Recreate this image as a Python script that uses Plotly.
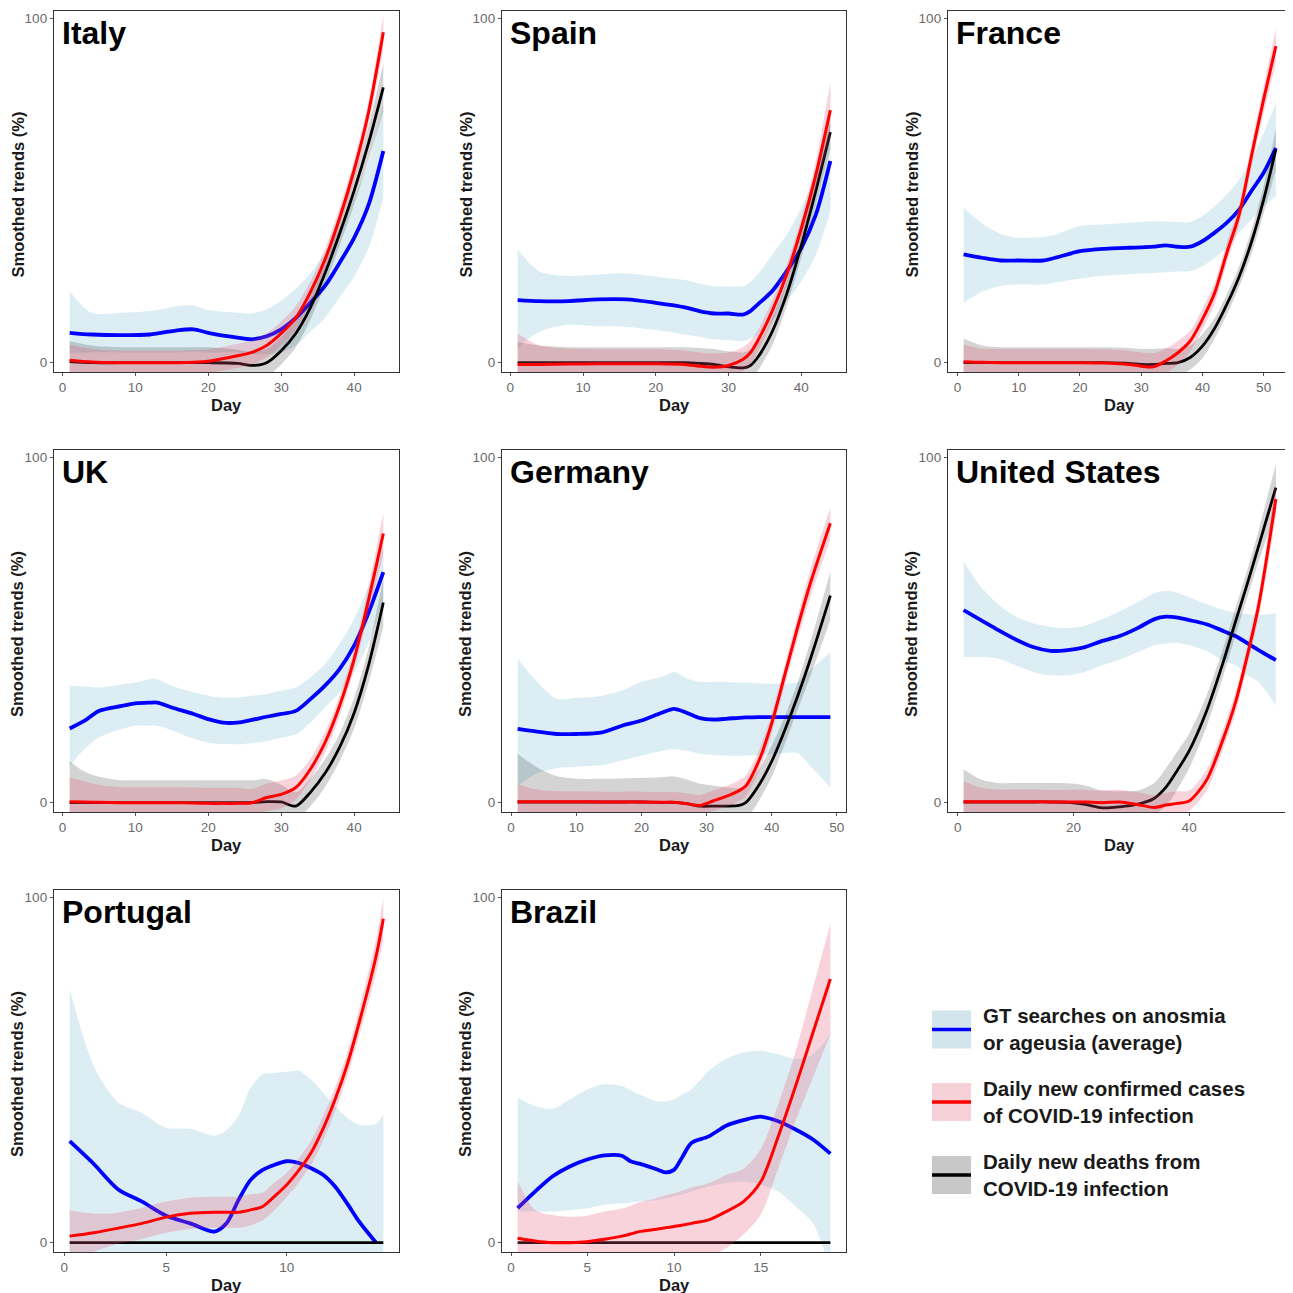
import plotly.graph_objects as go

# ---------------- DATA ----------------
# Italy
IT_DAY = [1, 4, 8, 12, 16, 18, 20, 24, 26, 28, 30, 32, 34, 36, 38, 40, 42, 44]
IT_GT = [8.7, 8.2, 8.0, 8.2, 9.5, 9.7, 8.7, 7.3, 6.8, 7.7, 9.7, 13, 17.4, 22.3, 29, 36.3, 46, 61.5]
IT_GT_LO = [2.9, 3, 3, 3, 3, 3.2, 3, 3, 2.5, 2.5, 3, 5, 9, 13, 19, 25, 33.5, 48]
IT_GT_HI = [20.8, 14.5, 14.5, 15, 16.5, 16.6, 15.3, 14.5, 14.3, 15.5, 18, 21.5, 26, 32, 39, 48, 58.5, 75]
IT_CASES = [0.7, 0.2, 0, 0, 0, 0.1, 0.4, 2, 3, 5, 8.5, 13, 20.5, 30, 42, 56, 73, 96]
IT_CASES_SE = [4.5, 3.8, 3.5, 3.5, 3.5, 3.5, 3.5, 3.5, 3.5, 3.5, 3.5, 3.5, 3, 3, 3, 3, 3.5, 5]
IT_DEATHS = [0.3, 0, 0, 0, 0, 0, 0, -0.2, -0.8, 0, 3.5, 8.5, 16, 26, 37.5, 50, 64, 80]
IT_DEATHS_SE = [6, 5, 4.5, 4.5, 4.5, 4.5, 4.5, 4, 4, 4, 4, 4, 3.5, 3.5, 3.5, 4, 5, 7]

# Spain
SP_DAY = [1, 4, 8, 12, 16, 20, 24, 26, 28, 30, 32, 33, 34, 36, 38, 40, 42, 44]
SP_GT = [18.2, 17.9, 17.9, 18.4, 18.4, 17.4, 16.1, 15, 14.3, 14.3, 14, 15, 16.9, 20.8, 26.6, 33.3, 43, 58.6]
SP_GT_LO = [4.3, 9, 11, 10.6, 10.4, 9.5, 8.2, 7.5, 6.8, 6.5, 6.3, 7, 8.2, 12, 17.9, 23.7, 31.4, 44]
SP_GT_HI = [32.9, 26.5, 25.2, 25.6, 26, 25, 24, 23, 22.2, 22.2, 22.2, 23.5, 25.6, 31.4, 37.2, 45, 54.6, 70]
SP_CASES = [-0.5, -0.5, -0.4, -0.3, -0.3, -0.3, -0.5, -1, -1.3, -0.8, 1, 2.9, 6.3, 15, 25.6, 39, 54.6, 73.4]
SP_CASES_SE = [9, 5.5, 4.5, 4.2, 4.2, 4.2, 4, 4, 4, 3.8, 3.5, 3.5, 3, 3, 3, 3, 4, 8]
SP_DEATHS = [0, 0, 0, 0, 0, 0, 0, -0.2, -0.5, -1.2, -1.5, -0.8, 1.5, 9, 20, 34, 50, 67]
SP_DEATHS_SE = [6, 5, 4.5, 4.5, 4.5, 4.5, 4.5, 4.5, 4.5, 4.5, 4.5, 4.5, 4, 4, 3.5, 3.5, 4, 5]

# France
FR_DAY = [1, 4, 7, 10, 14, 16, 20, 24, 28, 30, 32, 34, 36, 38, 40, 42, 44, 46, 48, 50, 52]
FR_GT = [31.5, 30.5, 29.7, 29.7, 29.7, 30.5, 32.4, 33.1, 33.4, 33.5, 33.7, 34.1, 33.7, 33.7, 35.3, 37.8, 40.7, 44.5, 49.9, 55.2, 62.4]
FR_GT_LO = [17.4, 20.6, 22.3, 22.7, 22.7, 23.3, 24.5, 25.3, 25.7, 25.9, 26.1, 26.3, 26.5, 26.6, 28, 30.5, 33.4, 37.8, 41.6, 45.5, 48.4]
FR_GT_HI = [45, 40.5, 37.5, 36.3, 36.6, 37.2, 39.7, 40.2, 40.7, 40.9, 41.1, 41, 40.9, 40.9, 42.6, 45.5, 48.9, 53.2, 59, 66.8, 75.5]
FR_CASES = [0.3, 0.1, 0, 0, 0, 0, 0, -0.1, -0.5, -1, -1.2, 0.5, 2.9, 6.3, 12.6, 20.3, 32, 43, 60, 76.5, 92]
FR_CASES_SE = [5, 4, 4, 4, 4, 4, 4, 4, 4, 4, 4, 3.5, 3.5, 3, 3, 3, 3, 3, 3.5, 4, 5]
FR_DEATHS = [0, 0, 0, 0, 0, 0, 0, 0, -0.2, -0.5, -0.5, -0.2, 0, 1.5, 4.8, 10, 17, 25, 35, 47.4, 62]
FR_DEATHS_SE = [7, 5, 4.5, 4.5, 4.5, 4.5, 4.5, 4.5, 4.5, 4.5, 4.5, 4.5, 4, 3.5, 3.5, 3, 3, 3, 3.5, 4, 6]

# UK
UK_DAY = [1, 3, 5, 8, 10, 12, 13, 15, 18, 20, 22, 24, 26, 28, 30, 32, 34, 36, 38, 40, 42, 44]
UK_GT = [21.5, 23.7, 26.6, 28, 28.8, 29, 29, 27.6, 25.7, 24.2, 23.2, 23.2, 24, 24.9, 25.7, 26.6, 30, 33.9, 38.7, 45.5, 55.2, 66.8]
UK_GT_LO = [10.6, 15.5, 18.9, 21.3, 22.3, 22.3, 22.3, 21, 18.5, 17.4, 17, 16.9, 17.3, 17.9, 18.8, 19.8, 23.2, 27.6, 31.9, 37.8, 46.5, 59]
UK_GT_HI = [33.9, 33.7, 33.4, 34.2, 34.8, 35.8, 35.8, 33.9, 32, 31, 30.5, 30.5, 31, 31.5, 32.5, 33.4, 36.3, 40.2, 46, 53.2, 63, 74.5]
UK_CASES = [0.3, 0.2, 0.1, 0, 0, 0, 0, 0, -0.1, -0.2, -0.2, -0.2, 0, 1.5, 2.4, 4.4, 9.7, 17.4, 28, 41.6, 59, 78]
UK_CASES_SE = [7, 6, 5, 4.5, 4.5, 4.5, 4.5, 4.5, 4.5, 4.5, 4.5, 4.5, 4, 4, 4, 3.5, 3, 3, 3, 3, 4, 6]
UK_DEATHS = [0, 0, 0, 0, 0, 0, 0, 0, 0, 0, 0, 0, 0, 0.3, 0.2, -1, 3, 8.5, 16, 26, 40, 58]
UK_DEATHS_SE = [12, 9, 7.5, 6.5, 6.5, 6.5, 6.5, 6.5, 6.5, 6.5, 6.5, 6.5, 6.5, 6.5, 5, 4, 4, 4, 4, 4.5, 5, 7]

# Germany
DE_DAY = [1, 4, 7, 10, 14, 17, 20, 23, 25, 27, 29, 31, 33, 35, 36, 38, 40, 42, 44, 46, 49]
DE_GT = [21.4, 20.6, 19.9, 19.9, 20.4, 22.3, 23.8, 26, 27.2, 26, 24.5, 24.1, 24.3, 24.6, 24.7, 24.8, 24.8, 24.8, 24.8, 24.8, 24.8]
DE_GT_LO = [4.9, 8.5, 10, 10.4, 10.9, 12.2, 13.6, 15, 15.5, 15, 14.2, 13.8, 13.6, 13.6, 13.6, 13.8, 14.1, 14.4, 14.3, 10.5, 4.4]
DE_GT_HI = [41.7, 35, 30.1, 30.3, 31, 32.5, 35, 36.4, 37.9, 36, 35, 35, 35, 34.8, 34.8, 34.6, 34.5, 34.5, 35, 38.5, 43.7]
DE_CASES = [0.3, 0.3, 0.3, 0.3, 0.2, 0.2, 0.2, 0.1, 0.1, -0.3, -0.8, 0.5, 1.8, 3.5, 4.8, 12, 23, 37, 51, 64, 81]
DE_CASES_SE = [5, 3.5, 3, 3, 3, 3, 3, 3, 3, 3, 3, 3, 3, 3, 3, 3, 3, 3, 3.5, 4, 4.5]
DE_DEATHS = [0.2, 0.2, 0.2, 0.2, 0.2, 0.2, 0.2, 0.1, 0.1, -0.3, -1, -1, -1, -0.8, 0, 5, 12, 21, 31, 42, 60]
DE_DEATHS_SE = [14, 10, 7.5, 6.7, 6.7, 6.8, 7, 7.3, 7.5, 7, 6.5, 6, 5.5, 5, 5, 4.5, 4.5, 4, 4, 5, 7]

# United States
US_DAY = [1, 4, 7, 10, 13, 16, 19, 22, 25, 28, 31, 34, 36, 38, 40, 43, 46, 48, 50, 52, 55]
US_GT = [55.8, 52.9, 50, 47.3, 45.1, 44, 44.2, 45.1, 46.9, 48.3, 50.5, 53.2, 53.9, 53.6, 52.9, 51.7, 49.7, 48.3, 46.3, 44.2, 41.3]
US_GT_LO = [42.2, 42.2, 41.7, 39.8, 37.9, 36.9, 36.9, 37.9, 39.8, 41.5, 43.5, 45.6, 46.1, 46.3, 45.6, 44, 41, 39.8, 37, 35, 28.2]
US_GT_HI = [69.9, 62.5, 57.5, 53.9, 52, 51, 50.6, 51.3, 53.2, 55.5, 58, 60.7, 61.4, 60.8, 59.5, 57.5, 55.8, 55, 54.6, 54.4, 54.9]
US_CASES = [0.3, 0.3, 0.3, 0.3, 0.3, 0.2, 0.2, 0.2, 0, 0.2, -0.5, -1.4, -0.7, -0.2, 0.5, 6.5, 19, 29, 42.2, 57, 88]
US_CASES_SE = [6, 4, 3.5, 3.5, 3.5, 3.5, 3.5, 3.5, 3.5, 3.5, 3.5, 3.5, 3.5, 3.5, 3, 3, 3, 3, 3, 3.5, 5]
US_DEATHS = [0.2, 0.2, 0.2, 0.2, 0.2, 0.2, 0.1, -0.5, -1.5, -1.2, -0.5, 1.3, 4.5, 9.5, 15, 26.5, 41.3, 52.4, 63.1, 74.3, 91.3]
US_DEATHS_SE = [9.5, 6.5, 5.5, 5.5, 5.5, 5.5, 5.5, 5.5, 5, 4.5, 4, 4.5, 5.5, 5.5, 5, 4.5, 4, 4, 4, 4.5, 7]

# Portugal
PT_DAY = [1, 2, 3, 4, 5, 6, 7, 7.5, 8, 8.5, 9, 9.5, 10, 10.5, 11, 11.5, 12, 12.5, 13, 13.7, 14]
PT_GT = [29.4, 22.8, 15.5, 11.9, 7.8, 5.6, 3.2, 5.6, 12.4, 18.2, 21.1, 22.6, 23.6, 23.1, 21.6, 19.7, 16.3, 11.4, 6.1, 0, None]
PT_GT_LO = [-25, -24, -22, -22, -22, -22, -22, -22, -22, -22, -22, -22, -22, -22, -22, -22, -22, -22, -22, -22, -22]
PT_GT_HI = [73.5, 51.2, 40.7, 37.6, 33.3, 33, 31, 32.6, 36.7, 44.9, 48.8, 49.2, 49.5, 49.8, 47.3, 43.5, 39.6, 36.2, 34.2, 34.5, 37.1]
PT_CASES = [1.9, 2.9, 4.2, 5.6, 7.4, 8.5, 8.8, 8.8, 8.8, 9.5, 10.5, 13.5, 16.8, 21, 26, 33, 41.5, 51.5, 63.8, 83, 93.9]
PT_CASES_SE = [7.5, 5.5, 4.5, 4.5, 4.5, 4.5, 4.5, 4.5, 4.5, 4.5, 4, 4, 3.5, 3.5, 3.5, 3.5, 3.5, 3.5, 4, 5, 6]
PT_DEATHS = [0, 0, 0, 0, 0, 0, 0, 0, 0, 0, 0, 0, 0, 0, 0, 0, 0, 0, 0, 0, 0]
PT_DEATHS_SE = [0, 0, 0, 0, 0, 0, 0, 0, 0, 0, 0, 0, 0, 0, 0, 0, 0, 0, 0, 0, 0]

# Brazil
BR_DAY = [1, 2, 3, 4, 5, 6, 7, 7.5, 8, 9, 9.5, 10, 10.5, 11, 12, 13, 14, 15, 16, 17, 18, 19]
BR_GT = [10, 14.8, 19.2, 22.1, 24.1, 25.3, 25.2, 23.6, 22.9, 21.3, 20.4, 21.1, 25, 28.9, 30.8, 33.9, 35.5, 36.5, 35.2, 32.8, 29.9, 25.8]
BR_GT_LO = [9, 9, 9, 9.5, 10, 11, 11.4, 11.6, 11.9, 12.4, 12.9, 13.4, 14, 14.8, 16.3, 17.3, 17.7, 16.8, 14.8, 10.5, 5.6, -8]
BR_GT_HI = [42, 39.6, 38.8, 41.5, 44.4, 45.9, 45.4, 44.2, 43, 41, 41, 41.5, 43, 44.4, 49.8, 53.2, 55.1, 55.6, 54.6, 53.2, 54.6, 60.4]
BR_CASES = [1.3, 0.5, 0, 0, 0.3, 1, 1.9, 2.5, 3.2, 3.9, 4.3, 4.7, 5.1, 5.6, 6.6, 9, 11.9, 17.7, 30.8, 45.4, 60.9, 76.4]
BR_CASES_SE = [16.5, 9, 8, 7.5, 7.5, 8, 8, 8.2, 8.5, 9, 9.4, 9.6, 10, 10.4, 10.6, 10.6, 9.5, 9.5, 9.3, 10, 13, 16]
BR_DEATHS = [0, 0, 0, 0, 0, 0, 0, 0, 0, 0, 0, 0, 0, 0, 0, 0, 0, 0, 0, 0, 0, 0]
BR_DEATHS_SE = [0, 0, 0, 0, 0, 0, 0, 0, 0, 0, 0, 0, 0, 0, 0, 0, 0, 0, 0, 0, 0, 0]

COUNTRY_NAMES = ["Italy", "Spain", "France", "UK", "Germany", "United States", "Portugal", "Brazil"]
X_TICK_LABELS = [
    ["0", "10", "20", "30", "40"],
    ["0", "10", "20", "30", "40"],
    ["0", "10", "20", "30", "40", "50"],
    ["0", "10", "20", "30", "40"],
    ["0", "10", "20", "30", "40", "50"],
    ["0", "20", "40"],
    ["0", "5", "10"],
    ["0", "5", "10", "15"],
]
LEGEND_LABELS = [
    "GT searches on anosmia<br>or ageusia (average)",
    "Daily new confirmed cases<br>of COVID-19 infection",
    "Daily new deaths from<br>COVID-19 infection",
]

SERIES = [
    (IT_DAY, IT_GT, IT_GT_LO, IT_GT_HI, IT_CASES, IT_CASES_SE, IT_DEATHS, IT_DEATHS_SE),
    (SP_DAY, SP_GT, SP_GT_LO, SP_GT_HI, SP_CASES, SP_CASES_SE, SP_DEATHS, SP_DEATHS_SE),
    (FR_DAY, FR_GT, FR_GT_LO, FR_GT_HI, FR_CASES, FR_CASES_SE, FR_DEATHS, FR_DEATHS_SE),
    (UK_DAY, UK_GT, UK_GT_LO, UK_GT_HI, UK_CASES, UK_CASES_SE, UK_DEATHS, UK_DEATHS_SE),
    (DE_DAY, DE_GT, DE_GT_LO, DE_GT_HI, DE_CASES, DE_CASES_SE, DE_DEATHS, DE_DEATHS_SE),
    (US_DAY, US_GT, US_GT_LO, US_GT_HI, US_CASES, US_CASES_SE, US_DEATHS, US_DEATHS_SE),
    (PT_DAY, PT_GT, PT_GT_LO, PT_GT_HI, PT_CASES, PT_CASES_SE, PT_DEATHS, PT_DEATHS_SE),
    (BR_DAY, BR_GT, BR_GT_LO, BR_GT_HI, BR_CASES, BR_CASES_SE, BR_DEATHS, BR_DEATHS_SE),
]

# ---------------- LAYOUT / STYLE ----------------
PAGE_OFFSET = 8          # default body margin of the html page
W = H = 1293 - PAGE_OFFSET
FONT = "Liberation Sans, Arial, sans-serif"
COL_X = [(54, 399), (502, 846), (948, 1291.5)]
ROW_Y = [(11, 372), (450, 812), (890, 1252)]
GRID_POS = [(0, 0), (1, 0), (2, 0), (0, 1), (1, 1), (2, 1), (0, 2), (1, 2)]
# tick positions along the drawn axis (first label of the last two panels is drawn inside the range)
X_TICK_POS = [
    [0, 10, 20, 30, 40], [0, 10, 20, 30, 40], [0, 10, 20, 30, 40, 50],
    [0, 10, 20, 30, 40], [0, 10, 20, 30, 40, 50], [0, 20, 40],
    [0.77, 5, 10], [0.62, 5, 10, 15],
]
Y_RANGE = [-2.7, 102.2]

BLUE_BAND = "rgba(173,216,230,0.43)"
RED_BAND = "rgba(230,80,110,0.25)"
GREY_BAND = "rgba(0,0,0,0.17)"
SMOOTH = 0.8

fig = go.Figure()
layout = {}
annotations = []
shapes = []


def px_x(p):
    return (p - PAGE_OFFSET) / W


def px_y(p):
    return 1 - (p - PAGE_OFFSET) / H


for i, (day, gt, gt_lo, gt_hi, cases, cases_se, deaths, deaths_se) in enumerate(SERIES):
    xa = "x" if i == 0 else f"x{i + 1}"
    ya = "y" if i == 0 else f"y{i + 1}"
    common = dict(xaxis=xa, yaxis=ya, mode="lines", hoverinfo="skip", showlegend=False)
    thin = dict(width=0, shape="spline", smoothing=SMOOTH)

    # GT band + line
    fig.add_trace(go.Scatter(x=day, y=gt_lo, line=thin, **common))
    fig.add_trace(go.Scatter(x=day, y=gt_hi, line=thin, fill="tonexty", fillcolor=BLUE_BAND, **common))
    fig.add_trace(go.Scatter(x=day, y=gt, line=dict(color="#0000ff", width=3.8, shape="spline", smoothing=SMOOTH), **common))

    # deaths band + line
    d_lo = [m - s for m, s in zip(deaths, deaths_se)]
    d_hi = [m + s for m, s in zip(deaths, deaths_se)]
    fig.add_trace(go.Scatter(x=day, y=d_lo, line=thin, **common))
    fig.add_trace(go.Scatter(x=day, y=d_hi, line=thin, fill="tonexty", fillcolor=GREY_BAND, **common))
    fig.add_trace(go.Scatter(x=day, y=deaths, line=dict(color="#000000", width=2.8, shape="spline", smoothing=SMOOTH), **common))

    # cases band + line
    c_lo = [m - s for m, s in zip(cases, cases_se)]
    c_hi = [m + s for m, s in zip(cases, cases_se)]
    fig.add_trace(go.Scatter(x=day, y=c_lo, line=thin, **common))
    fig.add_trace(go.Scatter(x=day, y=c_hi, line=thin, fill="tonexty", fillcolor=RED_BAND, **common))
    fig.add_trace(go.Scatter(x=day, y=cases, line=dict(color="#ff0000", width=3.0, shape="spline", smoothing=SMOOTH), **common))

    col, row = GRID_POS[i]
    x0, x1 = COL_X[col]
    y0, y1 = ROW_Y[row]
    span = max(day) - min(day)
    xr = [min(day) - 0.05 * span, max(day) + 0.05 * span]

    axis_common = dict(
        showline=True, mirror=True, linecolor="#333333", linewidth=1.3,
        ticks="outside", ticklen=3, tickwidth=1, tickcolor="#555555",
        tickfont=dict(family=FONT, size=13.5, color="#6a6a6a"),
        showgrid=False, zeroline=False, fixedrange=True,
    )
    layout["xaxis" if i == 0 else f"xaxis{i + 1}"] = dict(
        domain=[px_x(x0), px_x(x1)], anchor=ya, range=xr,
        tickmode="array", tickvals=X_TICK_POS[i], ticktext=X_TICK_LABELS[i], **axis_common)
    layout["yaxis" if i == 0 else f"yaxis{i + 1}"] = dict(
        domain=[px_y(y1), px_y(y0)], anchor=xa, range=Y_RANGE,
        tickmode="array", tickvals=[0, 100], ticktext=["0", "100"], **axis_common)

    # country title
    annotations.append(dict(
        xref="paper", yref="paper", x=px_x(x0 + 6), y=px_y(y0 + 22),
        xanchor="left", yanchor="middle", showarrow=False,
        text=f"<b>{COUNTRY_NAMES[i]}</b>", font=dict(family=FONT, size=32, color="#000000")))
    # y-axis title
    annotations.append(dict(
        xref="paper", yref="paper", x=px_x(x0 - 37), y=px_y((y0 + y1) / 2 + 3),
        xanchor="center", yanchor="middle", showarrow=False, textangle=-90,
        text="<b>Smoothed trends (%)</b>", font=dict(family=FONT, size=16.5, color="#1a1a1a")))
    # x-axis title
    annotations.append(dict(
        xref="paper", yref="paper", x=px_x((x0 + x1) / 2), y=px_y(y1 + 33),
        xanchor="center", yanchor="middle", showarrow=False,
        text="<b>Day</b>", font=dict(family=FONT, size=16.5, color="#1a1a1a")))

# ---------------- LEGEND (drawn manually) ----------------
LEG_SWATCH_SOLID = ["#d3e5ec", "#f6d2d8", "#c8c8c8"]
LEG_LINE = ["#0000ff", "#ff0000", "#000000"]
LEG_CENTER_Y = [1029.5, 1102, 1175]
for k in range(3):
    cy = LEG_CENTER_Y[k]
    shapes.append(dict(type="rect", xref="paper", yref="paper",
                       x0=px_x(932), x1=px_x(971), y0=px_y(cy + 19), y1=px_y(cy - 19),
                       fillcolor=LEG_SWATCH_SOLID[k], line=dict(width=0)))
    shapes.append(dict(type="line", xref="paper", yref="paper",
                       x0=px_x(932), x1=px_x(971), y0=px_y(cy), y1=px_y(cy),
                       line=dict(color=LEG_LINE[k], width=3.5)))
    annotations.append(dict(
        xref="paper", yref="paper", x=px_x(981), y=px_y(cy),
        xanchor="left", yanchor="middle", align="left", showarrow=False,
        text=f"<b>{LEGEND_LABELS[k]}</b>", font=dict(family=FONT, size=20.5, color="#1a1a1a")))

fig.update_layout(
    width=W, height=H, margin=dict(l=0, r=0, t=0, b=0),
    paper_bgcolor="white", plot_bgcolor="white",
    showlegend=False, annotations=annotations, shapes=shapes, **layout)

fig.write_html("out.html")
